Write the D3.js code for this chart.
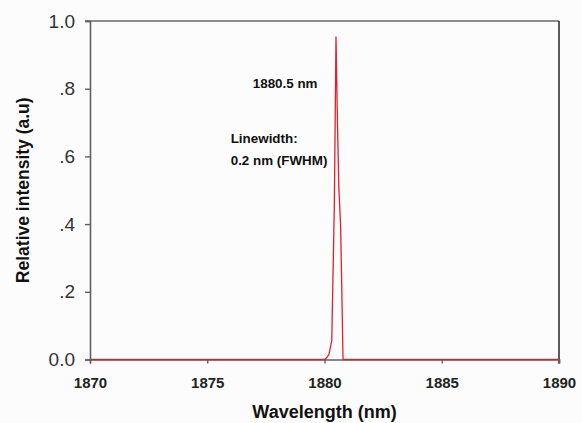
<!DOCTYPE html>
<html>
<head>
<meta charset="utf-8">
<script src="https://cdn.jsdelivr.net/npm/d3@7"></script>
<style>
  body { margin: 0; background: #fcfcfc; }
  svg { display: block; }
  text { font-family: "Liberation Sans", Arial, sans-serif; }
</style>
</head>
<body>
<svg width="582" height="423"></svg>
<script>
// spectrum (nm, relative intensity)
const wavelength = [1870, 1875, 1880, 1880.09, 1880.19, 1880.31, 1880.42, 1880.49,
                    1880.55, 1880.61, 1880.69, 1880.79, 1885, 1890];
const intensity  = [0, 0, 0, 0.005, 0.015, 0.056, 0.46, 0.953,
                    0.71, 0.51, 0.39, 0, 0, 0];

const xTicks = [1870, 1875, 1880, 1885, 1890];
const yTicks = [0, 0.2, 0.4, 0.6, 0.8, 1.0];
const yTickLabels = ['0.0', '.2', '.4', '.6', '.8', '1.0'];

const notes = [
  { text: '1880.5 nm', x: 1876.94, y: 0.802 },
  { text: 'Linewidth:', x: 1876.0, y: 0.640 },
  { text: '0.2 nm (FWHM)', x: 1876.0, y: 0.575 }
];

const margin = { left: 90, right: 23, top: 21, bottom: 63.5 };
const width = 582, height = 423;

const svg = d3.select('svg');

const x = d3.scaleLinear().domain([1870, 1890]).range([margin.left, width - margin.right]);
const y = d3.scaleLinear().domain([0, 1]).range([height - margin.bottom, margin.top]);

// frame: top and right sides
svg.append('line')
    .attr('x1', x(1870) - 5).attr('x2', x(1890))
    .attr('y1', y(1)).attr('y2', y(1))
    .attr('stroke', '#6a6a6a').attr('stroke-width', 1.6);
svg.append('line')
    .attr('x1', x(1890)).attr('x2', x(1890))
    .attr('y1', y(1)).attr('y2', y(0) + 4)
    .attr('stroke', '#333').attr('stroke-width', 1.6);

// y axis
const yAxis = svg.append('g')
    .attr('transform', `translate(${x(1870)},0)`)
    .call(d3.axisLeft(y).tickValues(yTicks)
        .tickFormat((d, i) => yTickLabels[i])
        .tickSize(5).tickPadding(10));
yAxis.select('.domain').attr('stroke', '#606060').attr('stroke-width', 1.6);
yAxis.selectAll('.tick line').attr('stroke', '#606060').attr('stroke-width', 1.4);
yAxis.selectAll('.tick text')
    .attr('font-size', 19).attr('fill', '#333')
    .style('font-family', '"Liberation Sans", Arial, sans-serif');

// x axis
const xAxis = svg.append('g')
    .attr('transform', `translate(0,${y(0)})`)
    .call(d3.axisBottom(x).tickValues(xTicks).tickFormat(d3.format('d'))
        .tickSize(4).tickPadding(14));
xAxis.select('.domain').attr('stroke', '#606060').attr('stroke-width', 1.6);
xAxis.selectAll('.tick line').attr('stroke', '#606060').attr('stroke-width', 1.4);
xAxis.selectAll('.tick text')
    .attr('font-size', 15).attr('font-weight', 'bold').attr('fill', '#222')
    .style('font-family', '"Liberation Sans", Arial, sans-serif');

// spectrum
const points = wavelength.map((w, i) => [w, intensity[i]]);
svg.append('path')
    .datum(points)
    .attr('fill', 'none')
    .attr('stroke', '#e0202e')
    .attr('stroke-width', 1.3)
    .attr('stroke-linejoin', 'round')
    .attr('d', d3.line().x(d => x(d[0])).y(d => y(d[1])));

// annotations
svg.selectAll('text.note')
    .data(notes)
    .join('text')
    .attr('class', 'note')
    .attr('x', d => x(d.x))
    .attr('y', d => y(d.y))
    .attr('font-size', 13.4)
    .attr('font-weight', 'bold')
    .attr('fill', '#111')
    .text(d => d.text);

// axis titles
svg.append('text')
    .attr('x', (x(1870) + x(1890)) / 2)
    .attr('y', 418)
    .attr('text-anchor', 'middle')
    .attr('font-size', 18)
    .attr('font-weight', 'bold')
    .attr('fill', '#111')
    .text('Wavelength (nm)');

svg.append('text')
    .attr('transform', `translate(29,${(y(0) + y(1)) / 2 + 0}) rotate(-90)`)
    .attr('text-anchor', 'middle')
    .attr('font-size', 17.5)
    .attr('font-weight', 'bold')
    .attr('fill', '#111')
    .text('Relative intensity (a.u)');
</script>
</body>
</html>
